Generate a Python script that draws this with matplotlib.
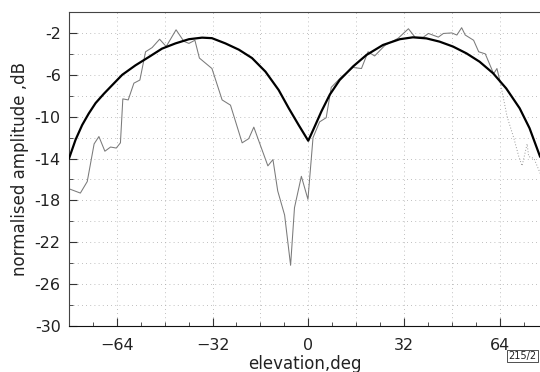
import matplotlib
matplotlib.use("Agg")
import matplotlib.pyplot as plt
from matplotlib.ticker import MultipleLocator

# theoretical pattern (thick black)
theory_el = [-80.0, -77.8, -75.6, -73.4, -71.1, -68.3, -65.6, -62.2, -57.8, -53.3,
             -48.9, -44.4, -39.9, -35.5, -32.2, -27.7, -23.2, -18.8, -14.3, -9.9,
             -6.5, -3.2, 0.0, 1.6, 4.4, 7.2, 10.5, 15.0, 19.5, 25.0, 30.6, 35.0,
             39.5, 43.9, 48.4, 52.9, 57.3, 61.8, 66.2, 70.7, 74.0, 77.5]
theory_db = [-14.0, -12.2, -10.8, -9.7, -8.7, -7.8, -7.0, -6.0, -5.1, -4.3,
             -3.5, -3.0, -2.6, -2.45, -2.5, -3.0, -3.6, -4.4, -5.7, -7.45,
             -9.2, -10.8, -12.3, -11.3, -9.5, -7.9, -6.5, -5.2, -4.1, -3.15, -2.6, -2.42,
             -2.52, -2.83, -3.3, -3.95, -4.75, -5.85, -7.3, -9.2, -11.1, -13.8]

# measured pattern (thin grey)
meas_el = [-79.9, -76.2, -73.9, -71.6, -70.0, -68.0, -66.1, -64.2, -62.8, -62.0,
           -60.2, -58.3, -56.3, -54.4, -52.2, -49.7, -47.5, -44.2, -41.6, -39.9,
           -37.9, -36.4, -32.2, -28.8, -26.0, -22.1, -19.9, -18.2, -16.3, -13.5,
           -11.8, -10.2, -7.9, -5.9, -4.6, -2.3, -0.1, 1.6, 3.8, 6.0, 7.7, 11.1,
           15.0, 17.8, 20.0, 22.2, 25.6, 30.1, 33.5, 35.7, 38.5, 40.2, 43.5,
           45.2, 48.0, 49.7, 51.3, 52.5, 55.3, 57.0, 59.2, 62.0, 63.1, 64.2]
meas_db = [-16.9, -17.3, -16.2, -12.6, -11.9, -13.3, -12.9, -13.0, -12.5, -8.3,
           -8.4, -6.8, -6.5, -3.8, -3.4, -2.6, -3.3, -1.7, -2.8, -3.0,
           -2.7, -4.4, -5.4, -8.4, -8.9, -12.5, -12.1, -11.0, -12.5, -14.7,
           -14.1, -17.1, -19.4, -24.2, -18.7, -15.7, -17.9, -12.0, -10.5, -10.1, -7.2, -6.2,
           -5.3, -5.4, -3.8, -4.2, -3.2, -2.5, -1.6, -2.4, -2.4, -2.05, -2.4,
           -2.05, -2.0, -2.2, -1.5, -2.2, -2.7, -3.8, -4.0, -5.9, -5.4, -6.7]

# sparse measured tail (dotted)
tail_el = [64.2, 66.5, 68.7, 70.4, 71.5, 73.2, 73.7, 75.5, 77.7]
tail_db = [-6.7, -10.0, -12.0, -13.8, -14.7, -12.6, -13.8, -14.0, -15.5]

x_ticks = [-64, -32, 0, 32, 64]
y_ticks = [-2, -6, -10, -14, -18, -22, -26, -30]

plt.rcParams['font.family'] = ['DejaVu Sans']
fig = plt.figure(figsize=(5.4, 3.72), dpi=100)
ax = fig.add_axes([69/540, 1-326/372, 1-69/540, (326-12)/372])

ax.set_xlim(-80, 77.5)
ax.set_ylim(-30, 0)

for v in range(-64, 80, 16):
    ax.axvline(v, color='#aaaaaa', lw=0.6, ls=(0, (1, 4)), zorder=1)
for h in range(-28, 0, 2):
    ax.axhline(h, color='#aaaaaa', lw=0.6, ls=(0, (1, 4)), zorder=1)

ax.plot(meas_el, meas_db, color='#7a7a7a', lw=0.75, zorder=2)
ax.plot(tail_el, tail_db, color='#999999', lw=0.7, ls=(0, (1, 2)), zorder=2)
ax.plot(theory_el, theory_db, color='black', lw=1.6, zorder=3,
        solid_joinstyle='round')

ax.set_xticks(x_ticks)
ax.set_xticklabels([f"{t:d}".replace('-', '\u2212') for t in x_ticks])
ax.set_yticks(y_ticks)
ax.set_yticklabels([f"{t:d}" for t in y_ticks])
ax.xaxis.set_minor_locator(MultipleLocator(8))
ax.yaxis.set_minor_locator(MultipleLocator(2))
ax.tick_params(which='both', direction='in', colors='#333333', labelcolor='#222222',
               labelsize=11.5, top=False, right=False)
ax.tick_params(which='major', length=6, width=0.8)
ax.tick_params(which='minor', length=3, width=0.6)
ax.tick_params(axis='x', pad=9)
ax.tick_params(axis='y', pad=6)

ax.spines['right'].set_visible(False)
ax.spines['top'].set_color('#444444')
ax.spines['left'].set_color('#444444')
ax.spines['bottom'].set_color('#111111')

ax.set_xlabel('elevation,deg', fontsize=12, color='#222222', labelpad=1)
ax.set_ylabel('normalised amplitude ,dB', fontsize=12, color='#222222', labelpad=4)

fig.text(0.993, 0.043, '215/2', fontsize=7, ha='right', va='center', color='#222222',
         bbox=dict(boxstyle='square,pad=0.15', fc='white', ec='#333333', lw=0.6))

fig.savefig('out.png', dpi=100)
